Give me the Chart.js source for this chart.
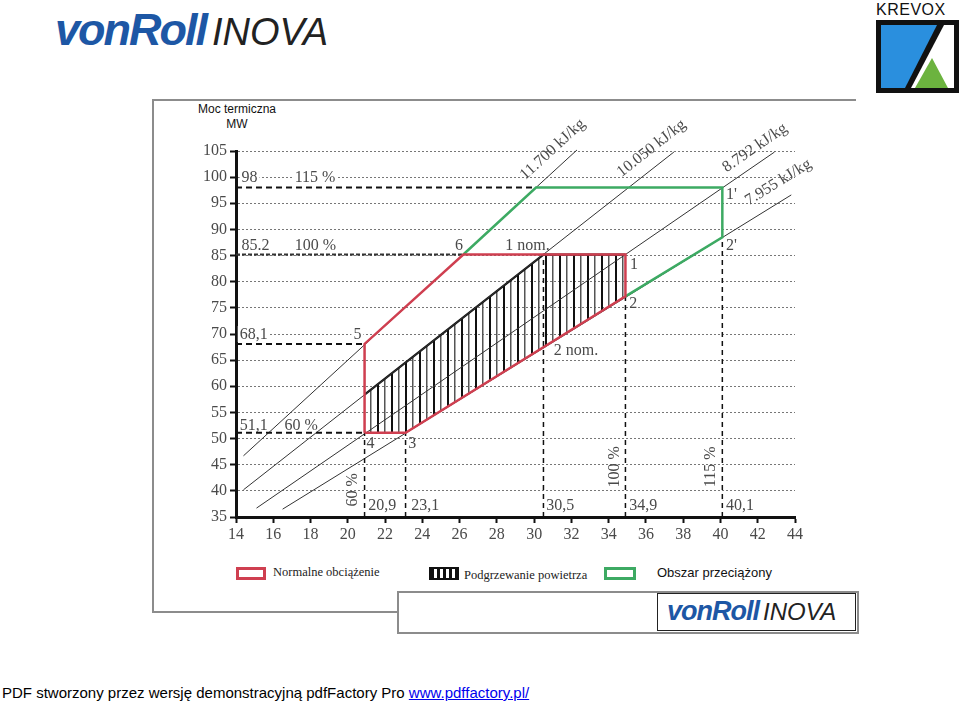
<!DOCTYPE html>
<html lang="pl">
<head>
<meta charset="utf-8">
<title>Moc termiczna</title>
<script src="https://cdn.jsdelivr.net/npm/chart.js@4.4.0/dist/chart.umd.min.js"></script>
<style>
  body { margin: 0; background: #fff; }
  #page { position: relative; width: 960px; height: 705px; overflow: hidden; font-family: "Liberation Sans", Arial, sans-serif; }
  .abs { position: absolute; }
  .logo { white-space: nowrap; line-height: 1; }
  .logo .von { color: #1d57a5; font-weight: 900; font-style: italic; letter-spacing: -2px; }
  .logo .inova { color: #222; font-style: italic; font-weight: normal; margin-left: 6px; }
  .frame { border-color: #8c8c8c; border-style: solid; border-width: 0; }
  .sw { position: absolute; box-sizing: border-box; height: 13px; }
  .leg { position: absolute; white-space: nowrap; line-height: 1; }
  #chartBox { position: absolute; left: 153px; top: 100px; width: 704px; height: 455px; }
</style>
</head>
<body>
<div id="page">
  <div class="abs logo" style="left:55px; top:7px;"><span class="von" style="font-size:45px;">vonRoll</span><span class="inova" style="font-size:38px;">INOVA</span></div>

  <div class="abs" style="left:876px; top:1px; font-size:16px; letter-spacing:0.5px; color:#111;">KREVOX</div>
  <svg class="abs" style="left:876px; top:20px;" width="83" height="73" viewBox="0 0 83 73">
    <rect x="0" y="0" width="83" height="73" fill="#111"/>
    <polygon points="5,5 61,5 29,68 5,68" fill="#2a8fde"/>
    <polygon points="68,5 78,5 78,68 35,68" fill="#fff"/>
    <polygon points="39,68 72,68 56,38" fill="#6cb33f"/>
  </svg>

  <div class="abs frame" style="left:152px; top:99px; width:704px; border-top-width:2px;"></div>
  <div class="abs frame" style="left:152px; top:99px; height:513px; border-left-width:2px;"></div>
  <div class="abs frame" style="left:152px; top:611px; width:245px; border-top-width:2px;"></div>
  <div class="abs frame" style="left:397px; top:591px; width:458px; height:39px; border-width:2px;"></div>
  <div class="abs" style="left:657px; top:593px; width:197px; height:36px; border:1.5px solid #222; background:#fff;"></div>
  <div class="abs logo" style="left:667px; top:598px;"><span class="von" style="font-size:27px; letter-spacing:-1px;">vonRoll</span><span class="inova" style="font-size:24px; margin-left:4px;">INOVA</span></div>

  <div class="abs" style="left:177px; top:102px; width:120px; text-align:center; font-size:12px; line-height:15px; color:#111; white-space:nowrap;">Moc termiczna<br>MW</div>

  <div id="chartBox"><canvas id="chart"></canvas></div>

  <div class="sw" style="left:236px; top:567px; width:30px; border:3px solid #cf3f50;"></div>
  <div class="leg" style="left:273px; top:566px; font-family:'Liberation Serif', serif; font-size:12.5px; color:#222;">Normalne obciążenie</div>
  <div class="sw" style="left:429px; top:567px; width:30px; background:repeating-linear-gradient(90deg, #111 0 3px, #fff 3px 6px); border:2px solid #111;"></div>
  <div class="leg" style="left:464px; top:569px; font-family:'Liberation Serif', serif; font-size:12.5px; color:#222;">Podgrzewanie powietrza</div>
  <div class="sw" style="left:604px; top:567px; width:32px; border:3px solid #3daa63;"></div>
  <div class="leg" style="left:657px; top:566px; font-size:13px; color:#111;">Obszar przeciążony</div>

  <div class="abs" style="left:2px; top:684px; font-size:15px; color:#000; white-space:nowrap;">PDF stworzony przez wersję demonstracyjną pdfFactory Pro <span style="color:#0000ee; text-decoration:underline;">www.pdffactory.pl/</span></div>
</div>

<script>
// osie
const xTicks = [14, 16, 18, 20, 22, 24, 26, 28, 30, 32, 34, 36, 38, 40, 42, 44];
const yTicks = [35, 40, 45, 50, 55, 60, 65, 70, 75, 80, 85, 90, 95, 100, 105];

// linie stalej wartosci opalowej
const heatValues = ['11.700', '10.050', '8.792', '7.955'];
const heatStartX = [14.4, 14.4, 15.1, 16.5];
const heatStartY = [46.7, 40.2, 36.7, 36.5];
const heatEndX = [32.3, 37.5, 42.9, 43.8];
const heatEndY = [105.2, 104.8, 104.8, 96.6];

// normalne obciazenie: 4 - 5 - 6 - 1 - 2 - 3 - 4
const normalX = [20.9, 20.9, 26.2, 34.9, 34.9, 23.1, 20.9];
const normalY = [51.1, 68.1, 85.2, 85.2, 77.2, 51.1, 51.1];

// obszar przeciazony: 6 - 1' - 2' - 2
const overloadX = [26.2, 30.1, 40.1, 40.1, 34.9];
const overloadY = [85.2, 98.0, 98.0, 88.5, 77.2];

// podgrzewanie powietrza (kreskowanie)
const preheatTopX = [20.9, 30.5, 34.9];
const preheatTopY = [58.4, 85.2, 85.2];
const preheatBottomX = [20.9, 23.1, 34.9];
const preheatBottomY = [51.1, 51.1, 77.2];

// linie pomocnicze
const levelY = [98, 85.2, 68.1, 51.1];
const levelEndX = [30.1, 26.2, 20.9, 20.9];
const markX = [20.9, 23.1, 30.5, 34.9, 40.1];
const markTopY = [51.1, 51.1, 85.2, 77.2, 88.5];

const RED = '#cf3f50';
const GREEN = '#3daa63';
const SERIF = "'Liberation Serif', 'Times New Roman', serif";

const pts = (xs, ys) => xs.map((x, i) => ({ x: x, y: ys[i] }));

// wzor kreskowania
const pc = document.createElement('canvas');
pc.width = 14; pc.height = 8;
const pg = pc.getContext('2d');
pg.fillStyle = '#111';
pg.fillRect(0, 0, 2, 8);
pg.fillStyle = '#555';
pg.fillRect(7, 0, 1.5, 8);
const hatch = pg.createPattern(pc, 'repeat');

const datasets = [];
datasets.push({
  data: pts(preheatTopX, preheatTopY), borderColor: '#111', borderWidth: 2.2,
  backgroundColor: hatch, fill: '+1', order: 20
});
datasets.push({
  data: pts(preheatBottomX, preheatBottomY), borderColor: 'transparent', borderWidth: 1,
  fill: false, order: 21
});
heatValues.forEach((h, i) => {
  datasets.push({
    data: [{ x: heatStartX[i], y: heatStartY[i] }, { x: heatEndX[i], y: heatEndY[i] }],
    borderColor: '#333', borderWidth: 1, fill: false, clip: false, order: 10
  });
});
levelY.forEach((y, i) => {
  datasets.push({
    data: [{ x: 14, y: y }, { x: levelEndX[i], y: y }],
    borderColor: i === 1 ? '#333' : '#111', borderWidth: 2,
    borderDash: i === 1 ? [4, 2] : [6, 4], fill: false, order: 8
  });
});
markX.forEach((x, i) => {
  datasets.push({
    data: [{ x: x, y: 35 }, { x: x, y: markTopY[i] }],
    borderColor: '#111', borderWidth: 1.5, borderDash: [5, 4], fill: false, order: 8
  });
});
datasets.push({
  data: pts(overloadX, overloadY), borderColor: GREEN, borderWidth: 2.5, fill: false, order: 3
});
datasets.push({
  data: pts(normalX, normalY), borderColor: RED, borderWidth: 2.5, fill: false, order: 2
});

// opisy na wykresie
const notes = [
  { t: '98', x: 14.3, y: 100, bg: true },
  { t: '115 %', x: 17.15, y: 100, bg: true },
  { t: '85.2', x: 14.3, y: 87 },
  { t: '100 %', x: 17.15, y: 87 },
  { t: '6', x: 25.75, y: 87 },
  { t: '1 nom.', x: 28.45, y: 87 },
  { t: '68,1', x: 14.2, y: 70, bg: true },
  { t: '5', x: 20.3, y: 70, bg: true },
  { t: '51,1', x: 14.2, y: 52.6 },
  { t: '60 %', x: 16.6, y: 52.6 },
  { t: '4', x: 21.0, y: 49.2 },
  { t: '3', x: 23.25, y: 49.2 },
  { t: '20,9', x: 21.1, y: 37.3 },
  { t: '23,1', x: 23.4, y: 37.3 },
  { t: '30,5', x: 30.65, y: 37.3 },
  { t: '34,9', x: 35.1, y: 37.3 },
  { t: '40,1', x: 40.3, y: 37.3 },
  { t: '2 nom.', x: 31.05, y: 66.9 },
  { t: '1', x: 35.15, y: 83.5 },
  { t: '2', x: 35.1, y: 75.9 },
  { t: "1'", x: 40.3, y: 96.9 },
  { t: "2'", x: 40.3, y: 87 },
  { t: '60 %', x: 20.2, y: 40.2, rot: -90 },
  { t: '100 %', x: 34.25, y: 44.6, rot: -90 },
  { t: '115 %', x: 39.45, y: 44.6, rot: -90 }
];
const heatNoteX = [31.0, 36.3, 41.85, 43.1];
const heatNoteY = [105.3, 105.5, 105.6, 99.0];

const notesPlugin = {
  id: 'notes',
  afterDatasetsDraw(chart) {
    const { ctx, scales: { x: sx, y: sy } } = chart;
    ctx.save();
    ctx.font = '16px ' + SERIF;
    ctx.fillStyle = '#4a4a4a';
    ctx.textBaseline = 'middle';
    notes.forEach(n => {
      const px = sx.getPixelForValue(n.x);
      const py = sy.getPixelForValue(n.y);
      ctx.save();
      ctx.translate(px, py);
      if (n.rot) {
        ctx.rotate(n.rot * Math.PI / 180);
        ctx.textAlign = 'center';
      } else {
        ctx.textAlign = 'left';
      }
      if (n.bg) {
        const w = ctx.measureText(n.t).width;
        ctx.fillStyle = '#fff';
        ctx.fillRect(-2, -8, w + 4, 16);
        ctx.fillStyle = '#4a4a4a';
      }
      ctx.fillText(n.t, 0, 1);
      ctx.restore();
    });
    heatValues.forEach((h, i) => {
      const ang = Math.atan2(
        sy.getPixelForValue(heatEndY[i]) - sy.getPixelForValue(heatStartY[i]),
        sx.getPixelForValue(heatEndX[i]) - sx.getPixelForValue(heatStartX[i]));
      ctx.save();
      ctx.translate(sx.getPixelForValue(heatNoteX[i]), sy.getPixelForValue(heatNoteY[i]));
      ctx.rotate(ang);
      ctx.textAlign = 'center';
      ctx.fillText(h + ' kJ/kg', 0, 0);
      ctx.restore();
    });
    ctx.restore();
  }
};

new Chart(document.getElementById('chart'), {
  type: 'line',
  data: { datasets: datasets },
  options: {
    responsive: true,
    maintainAspectRatio: false,
    animation: false,
    layout: { padding: { top: 51, right: 62, left: 0, bottom: 0 } },
    elements: { point: { radius: 0 }, line: { tension: 0 } },
    plugins: { legend: { display: false }, tooltip: { enabled: false } },
    scales: {
      x: {
        type: 'linear', min: 14, max: 44,
        afterBuildTicks: s => { s.ticks = xTicks.map(v => ({ value: v })); },
        afterFit: s => { s.height = 38; },
        border: { color: '#111', width: 3 },
        grid: { drawOnChartArea: false, drawTicks: true, tickLength: 6, tickColor: '#111', tickWidth: 2 },
        ticks: { padding: 2, color: '#4a4a4a', font: { family: SERIF, size: 16 }, maxRotation: 0 }
      },
      y: {
        min: 35, max: 105,
        afterBuildTicks: s => { s.ticks = yTicks.map(v => ({ value: v })); },
        afterFit: s => { s.width = 83; },
        border: { color: '#111', width: 3, dash: [2, 2] },
        grid: { color: '#777', lineWidth: 1, drawTicks: true, tickLength: 6, tickColor: '#111', tickWidth: 2, tickBorderDash: [] },
        ticks: { padding: 3, color: '#4a4a4a', font: { family: SERIF, size: 16 } }
      }
    }
  },
  plugins: [notesPlugin]
});
</script>
</body>
</html>
